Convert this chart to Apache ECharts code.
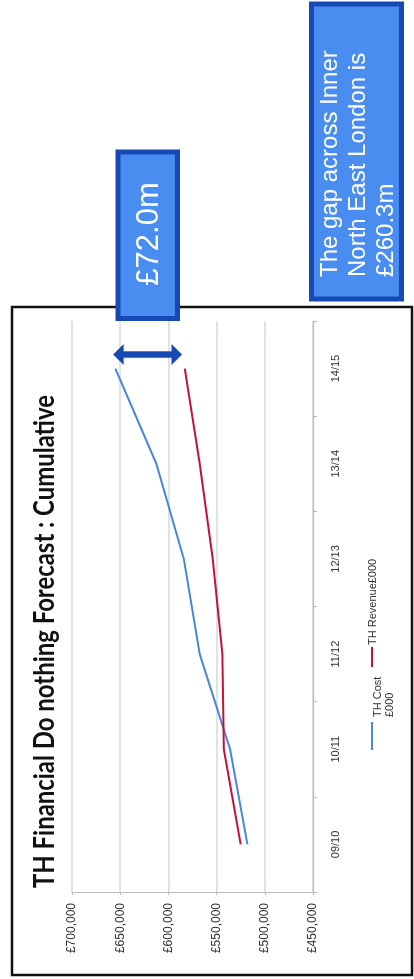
<!DOCTYPE html>
<html>
<head>
<meta charset="utf-8">
<style>
  html, body { margin: 0; padding: 0; background: #ffffff; }
  #chart { width: 414px; height: 979px; }
</style>
<script src="https://cdn.jsdelivr.net/npm/echarts@6/dist/echarts.min.js"></script>
</head>
<body>
<div id="chart"></div>
<script>
// ---- data (values in £000) ----
const categories = ['09/10', '10/11', '11/12', '12/13', '13/14', '14/15'];
const thCost = [518000, 536000, 567500, 584000, 612500, 655000];
const thRevenue = [525000, 542500, 544000, 554000, 567500, 583000];
const valueMin = 450000;
const valueMax = 700000;
const valueStep = 50000;
const seriesNames = ['TH Cost\n£000', 'TH Revenue£000'];
const titleText = 'TH Financial Do nothing Forecast : Cumulative';
const gapLines = ['The gap across Inner', 'North East London is', '£260.3m'];

const costColor = '#4a86d6';
const revColor = '#c4123a';
const boxFill = '#4a8df0';
const boxStroke = '#1749b4';

const chart = echarts.init(document.getElementById('chart'), null, { renderer: 'canvas' });

function money(v) {
  return '£' + v.toLocaleString('en-GB');
}

function measure(text, font) {
  const c = document.createElement('canvas').getContext('2d');
  c.font = font;
  return c.measureText(text).width;
}
const titleFont = 'bold 29px Lato';
const titleLen = 493;
const titleScale = titleLen / measure(titleText, titleFont);

const lastIdx = categories.length - 1;
// values are in £000, so divide by 1000 to get £m
const gapValue = ((thCost[lastIdx] - thRevenue[lastIdx]) / 1000).toFixed(1);

chart.setOption({
  backgroundColor: '#ffffff',
  animation: false,
  grid: { left: 72, right: 101, top: 321, bottom: 87 },
  xAxis: {
    type: 'value',
    inverse: true,
    min: valueMin,
    max: valueMax,
    interval: valueStep,
    position: 'bottom',
    axisLine: { show: true, lineStyle: { color: '#b8b8b8', width: 1.2 } },
    axisTick: { show: true, length: 3, lineStyle: { color: '#b8b8b8' } },
    axisLabel: {
      rotate: 90,
      margin: 11,
      fontSize: 12,
      fontFamily: 'Liberation Sans',
      color: '#333333',
      formatter: money
    },
    splitLine: { show: true, lineStyle: { color: '#d6dada', width: 1.5 } }
  },
  yAxis: {
    type: 'category',
    data: categories,
    position: 'right',
    boundaryGap: true,
    axisLine: { show: true, lineStyle: { color: '#b8b8b8', width: 1.2 } },
    axisTick: { show: true, length: 4, lineStyle: { color: '#b8b8b8' } },
    axisLabel: {
      rotate: 90,
      margin: 17,
      fontSize: 11,
      fontFamily: 'Liberation Sans',
      color: '#333333'
    },
    splitLine: { show: false }
  },
  series: [
    {
      name: seriesNames[0],
      type: 'line',
      data: thCost,
      symbol: 'none',
      lineStyle: { color: costColor, width: 2 },
      itemStyle: { color: costColor },
      z: 3
    },
    {
      name: seriesNames[1],
      type: 'line',
      data: thRevenue,
      symbol: 'none',
      lineStyle: { color: revColor, width: 2 },
      itemStyle: { color: revColor },
      z: 4
    }
  ]
});

const pCost = chart.convertToPixel({ xAxisIndex: 0, yAxisIndex: 0 }, [thCost[lastIdx], lastIdx]);
const pRev = chart.convertToPixel({ xAxisIndex: 0, yAxisIndex: 0 }, [thRevenue[lastIdx], lastIdx]);
const ay = pCost[1] - 14;
const ax1 = pCost[0] - 2;
const ax2 = pRev[0] - 3;
const sh = 3, hh = 10, hl = 10;
const arrowPts = [
  [ax1, ay], [ax1 + hl, ay - hh], [ax1 + hl, ay - sh], [ax2 - hl, ay - sh],
  [ax2 - hl, ay - hh], [ax2, ay], [ax2 - hl, ay + hh], [ax2 - hl, ay + sh],
  [ax1 + hl, ay + sh], [ax1 + hl, ay + hh]
];

chart.setOption({
  graphic: [
    {
      type: 'rect', z: 1,
      shape: { x: 12, y: 307, width: 400, height: 668 },
      style: { fill: 'none', stroke: '#111111', lineWidth: 2.5 }
    },
    {
      type: 'text', z: 10,
      x: 45, y: 888, rotation: Math.PI / 2, scaleX: titleScale,
      style: {
        text: titleText, font: titleFont, fill: '#111111',
        align: 'left', verticalAlign: 'middle'
      }
    },
    {
      type: 'line', z: 10,
      shape: { x1: 372, y1: 750, x2: 372, y2: 722 },
      style: { stroke: costColor, lineWidth: 2 }
    },
    {
      type: 'text', z: 10,
      x: 384, y: 717, rotation: Math.PI / 2,
      style: {
        text: seriesNames[0], fontSize: 11, fontFamily: 'Liberation Sans', lineHeight: 12,
        fill: '#333333', align: 'left', verticalAlign: 'middle'
      }
    },
    {
      type: 'line', z: 10,
      shape: { x1: 372, y1: 667, x2: 372, y2: 647 },
      style: { stroke: revColor, lineWidth: 2 }
    },
    {
      type: 'text', z: 10,
      x: 373, y: 645, rotation: Math.PI / 2,
      style: {
        text: seriesNames[1], fontSize: 11, fontFamily: 'Liberation Sans',
        fill: '#333333', align: 'left', verticalAlign: 'middle'
      }
    },
    {
      type: 'rect', z: 20,
      shape: { x: 118, y: 152, width: 59.5, height: 166.5 },
      style: { fill: boxFill, stroke: boxStroke, lineWidth: 5 }
    },
    {
      type: 'text', z: 21,
      x: 149, y: 234, rotation: Math.PI / 2,
      style: {
        text: '£' + gapValue + 'm', fontSize: 31, fontFamily: 'Liberation Sans',
        fill: '#ffffff', align: 'center', verticalAlign: 'middle'
      }
    },
    {
      type: 'rect', z: 20,
      shape: { x: 311.5, y: 4, width: 90, height: 295 },
      style: { fill: boxFill, stroke: boxStroke, lineWidth: 5 }
    },
    {
      type: 'text', z: 21,
      x: 358, y: 277, rotation: Math.PI / 2,
      style: {
        text: gapLines.join('\n'), fontSize: 24, lineHeight: 28, fontFamily: 'Liberation Sans',
        fill: '#ffffff', align: 'left', verticalAlign: 'middle'
      }
    },
    {
      type: 'polygon', z: 22,
      shape: { points: arrowPts },
      style: { fill: boxStroke, stroke: boxStroke, lineWidth: 0.5 }
    }
  ]
});
</script>
</body>
</html>
